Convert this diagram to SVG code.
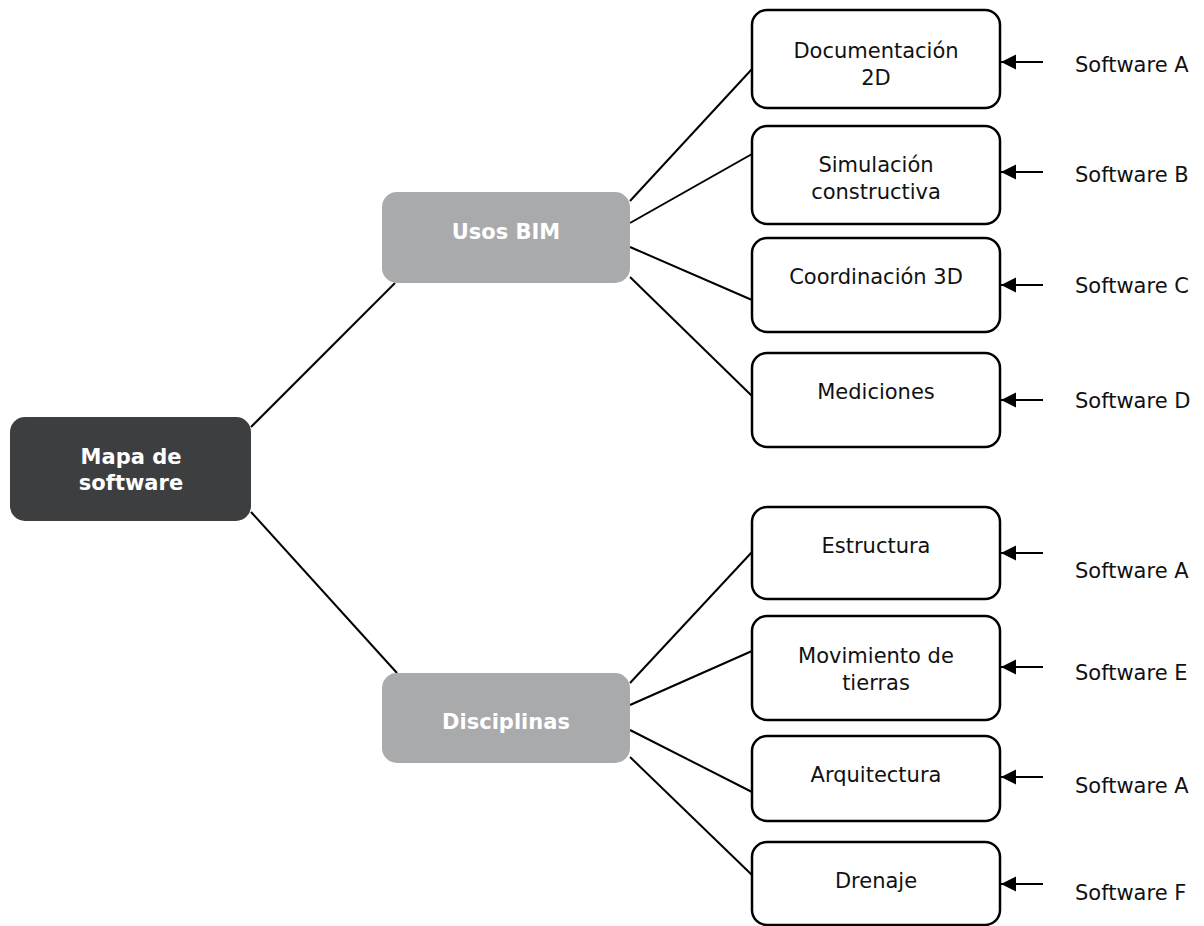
<svg xmlns="http://www.w3.org/2000/svg" width="1204" height="926" viewBox="0 0 1204 926">
<style>
text{font-family:"DejaVu Sans","Verdana",sans-serif;font-size:21px;}
.leaf rect{fill:#fff;stroke:#000;stroke-width:2.5;}
.leaf text{fill:#111;text-anchor:middle;}
.hub rect{fill:#a9aaac;}
.hub text{fill:#fff;font-weight:bold;text-anchor:middle;}
.root rect{fill:#3d3e40;}
.root text{fill:#fff;font-weight:bold;text-anchor:middle;}
.sw{fill:#111;}
#connectors line{stroke:#000;stroke-width:2;}
#connectors .arr{marker-end:url(#ah);}
</style>
<defs>
<marker id="ah" markerUnits="userSpaceOnUse" markerWidth="16" markerHeight="16" refX="15" refY="7.5" orient="auto">
<path d="M0,0 L15,7.5 L0,15 z" fill="#000"/>
</marker>
</defs>
<rect width="1204" height="926" fill="#fff"/>
<g id="connectors">
<line x1="251" y1="427" x2="395" y2="283"/>
<line x1="251" y1="512" x2="397" y2="673"/>
<line x1="630" y1="201" x2="752" y2="69"/>
<line x1="630" y1="223" x2="752" y2="154"/>
<line x1="630" y1="247" x2="752" y2="300"/>
<line x1="630" y1="277" x2="752" y2="396"/>
<line x1="630" y1="683" x2="752" y2="552"/>
<line x1="630" y1="705" x2="752" y2="651"/>
<line x1="630" y1="730" x2="752" y2="792"/>
<line x1="630" y1="757" x2="752" y2="875"/>
<line class="arr" x1="1043" y1="62" x2="1001" y2="62"/>
<line class="arr" x1="1043" y1="172" x2="1001" y2="172"/>
<line class="arr" x1="1043" y1="285" x2="1001" y2="285"/>
<line class="arr" x1="1043" y1="400" x2="1001" y2="400"/>
<line class="arr" x1="1043" y1="553" x2="1001" y2="553"/>
<line class="arr" x1="1043" y1="667" x2="1001" y2="667"/>
<line class="arr" x1="1043" y1="777" x2="1001" y2="777"/>
<line class="arr" x1="1043" y1="884" x2="1001" y2="884"/>
</g>
<g id="root" class="root"><rect x="10" y="417" width="241" height="104" rx="15"/><text x="131" y="464">Mapa de</text><text x="131" y="490">software</text></g>
<g id="usos" class="hub"><rect x="382" y="192" width="248" height="91" rx="15"/><text x="506" y="239">Usos BIM</text></g>
<g id="disciplinas" class="hub"><rect x="382" y="673" width="248" height="90" rx="15"/><text x="506" y="729">Disciplinas</text></g>
<g id="doc2d" class="leaf"><rect x="752" y="10" width="248" height="98" rx="15"/><text x="876" y="58">Documentación</text><text x="876" y="85">2D</text></g>
<g id="simulacion" class="leaf"><rect x="752" y="126" width="248" height="98" rx="15"/><text x="876" y="172">Simulación</text><text x="876" y="199">constructiva</text></g>
<g id="coordinacion" class="leaf"><rect x="752" y="238" width="248" height="94" rx="15"/><text x="876" y="284">Coordinación 3D</text></g>
<g id="mediciones" class="leaf"><rect x="752" y="353" width="248" height="94" rx="15"/><text x="876" y="399">Mediciones</text></g>
<g id="estructura" class="leaf"><rect x="752" y="507" width="248" height="92" rx="15"/><text x="876" y="553">Estructura</text></g>
<g id="movimiento" class="leaf"><rect x="752" y="616" width="248" height="104" rx="15"/><text x="876" y="663">Movimiento de</text><text x="876" y="690">tierras</text></g>
<g id="arquitectura" class="leaf"><rect x="752" y="736" width="248" height="85" rx="15"/><text x="876" y="782">Arquitectura</text></g>
<g id="drenaje" class="leaf"><rect x="752" y="842" width="248" height="83" rx="15"/><text x="876" y="888">Drenaje</text></g>
<g id="software-labels">
<text class="sw" x="1075" y="72">Software A</text>
<text class="sw" x="1075" y="182">Software B</text>
<text class="sw" x="1075" y="293">Software C</text>
<text class="sw" x="1075" y="408">Software D</text>
<text class="sw" x="1075" y="578">Software A</text>
<text class="sw" x="1075" y="680">Software E</text>
<text class="sw" x="1075" y="793">Software A</text>
<text class="sw" x="1075" y="900">Software F</text>
</g>
</svg>
